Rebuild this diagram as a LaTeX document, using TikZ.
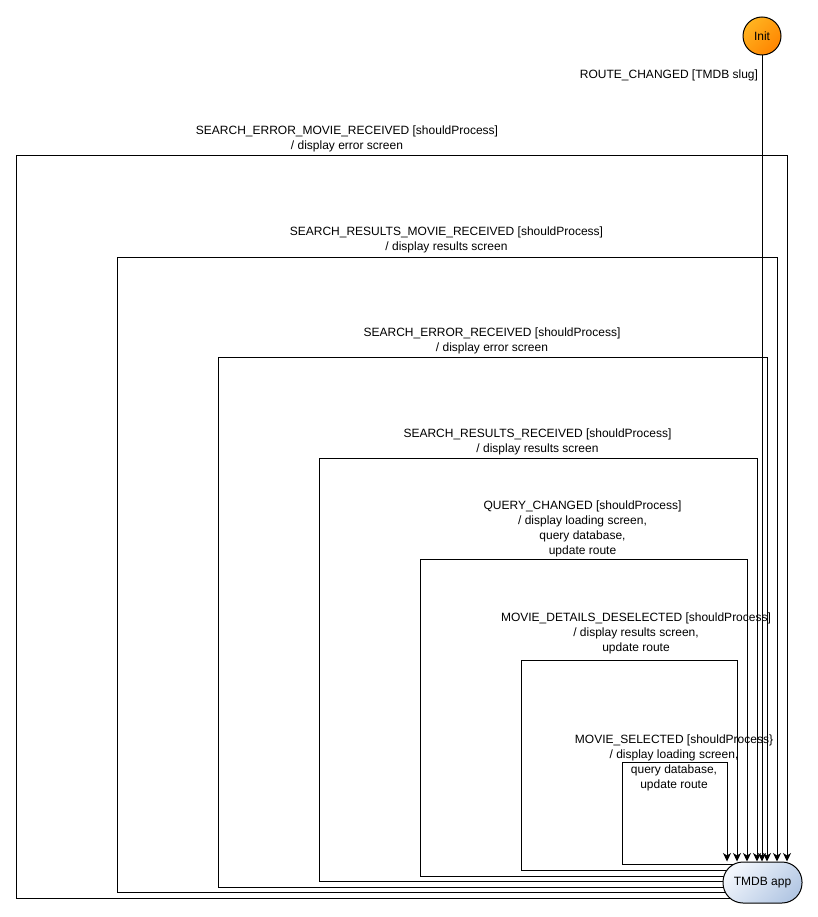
\documentclass[tikz,border=0pt]{standalone}
\usepackage{fontspec}
\setmainfont{Liberation Sans}
\usetikzlibrary{arrows.meta,backgrounds}
\definecolor{appA}{HTML}{F2F6FC}
\definecolor{appB}{HTML}{B4C8E4}
\definecolor{initA}{HTML}{FFB320}
\definecolor{initB}{HTML}{FF8500}
\begin{document}
\begin{tikzpicture}[x=1pt,y=-1pt,
  lbl/.style={font=\fontsize{12}{15}\selectfont, align=center, inner sep=0pt},
  loopline/.style={line width=1pt, -{Stealth[length=8.5pt,width=8pt,inset=2.5pt]}},
  appstate/.style={draw, line width=1pt, rounded corners=20pt, minimum width=79pt, minimum height=41pt, inner sep=0pt,
    font=\fontsize{12}{15}\selectfont, top color=appA, bottom color=appB, shading angle=45},
  initstate/.style={draw, line width=1pt, circle, minimum size=38pt, inner sep=0pt,
    font=\fontsize{12}{15}\selectfont, top color=initA, bottom color=initB, shading angle=45}]
\useasboundingbox (0,0) rectangle (817,917);
\node[initstate] (init) at (762,36) {Init};
\node[appstate] (app) at (762.5,882.5) {TMDB app};
\begin{scope}[on background layer]
\foreach \i/\l/\t/\r/\b in {1/16/156/787/898, 2/117/257/777/892.5, 3/218/357/767/887, 4/319/458/757/881.5, 5/420/559/747/876, 6/521/660/737/870, 7/622/762/727/864}{
  \coordinate (b\i) at (0,\b);
  \coordinate (tl\i) at (\l,\t);
  \coordinate (tr\i) at (\r,\t);
  \draw[loopline] (app.center |- b\i) -| (tl\i) -| (tr\i |- app.north);
}
\end{scope}
\draw[loopline] (init) -- (init |- app.north);
\node[lbl] (lr) at (669,75) {ROUTE\_CHANGED [TMDB slug]};
\node[lbl] (l1) at (347,139) {SEARCH\_ERROR\_MOVIE\_RECEIVED [shouldProcess]\\/ display error screen};
\node[lbl] (l2) at (446.5,240) {SEARCH\_RESULTS\_MOVIE\_RECEIVED [shouldProcess]\\/ display results screen};
\node[lbl] (l3) at (492,340.5) {SEARCH\_ERROR\_RECEIVED [shouldProcess]\\/ display error screen};
\node[lbl] (l4) at (537.5,442) {SEARCH\_RESULTS\_RECEIVED [shouldProcess]\\/ display results screen};
\node[lbl] (l5) at (582.5,529) {QUERY\_CHANGED [shouldProcess]\\/ display loading screen,\\query database,\\update route};
\node[lbl] (l6) at (636,633) {MOVIE\_DETAILS\_DESELECTED [shouldProcess]\\/ display results screen,\\update route};
\node[lbl] (l7) at (674,763) {MOVIE\_SELECTED [shouldProcess\}\\/ display loading screen,\\query database,\\update route};
\end{tikzpicture}
\end{document}
